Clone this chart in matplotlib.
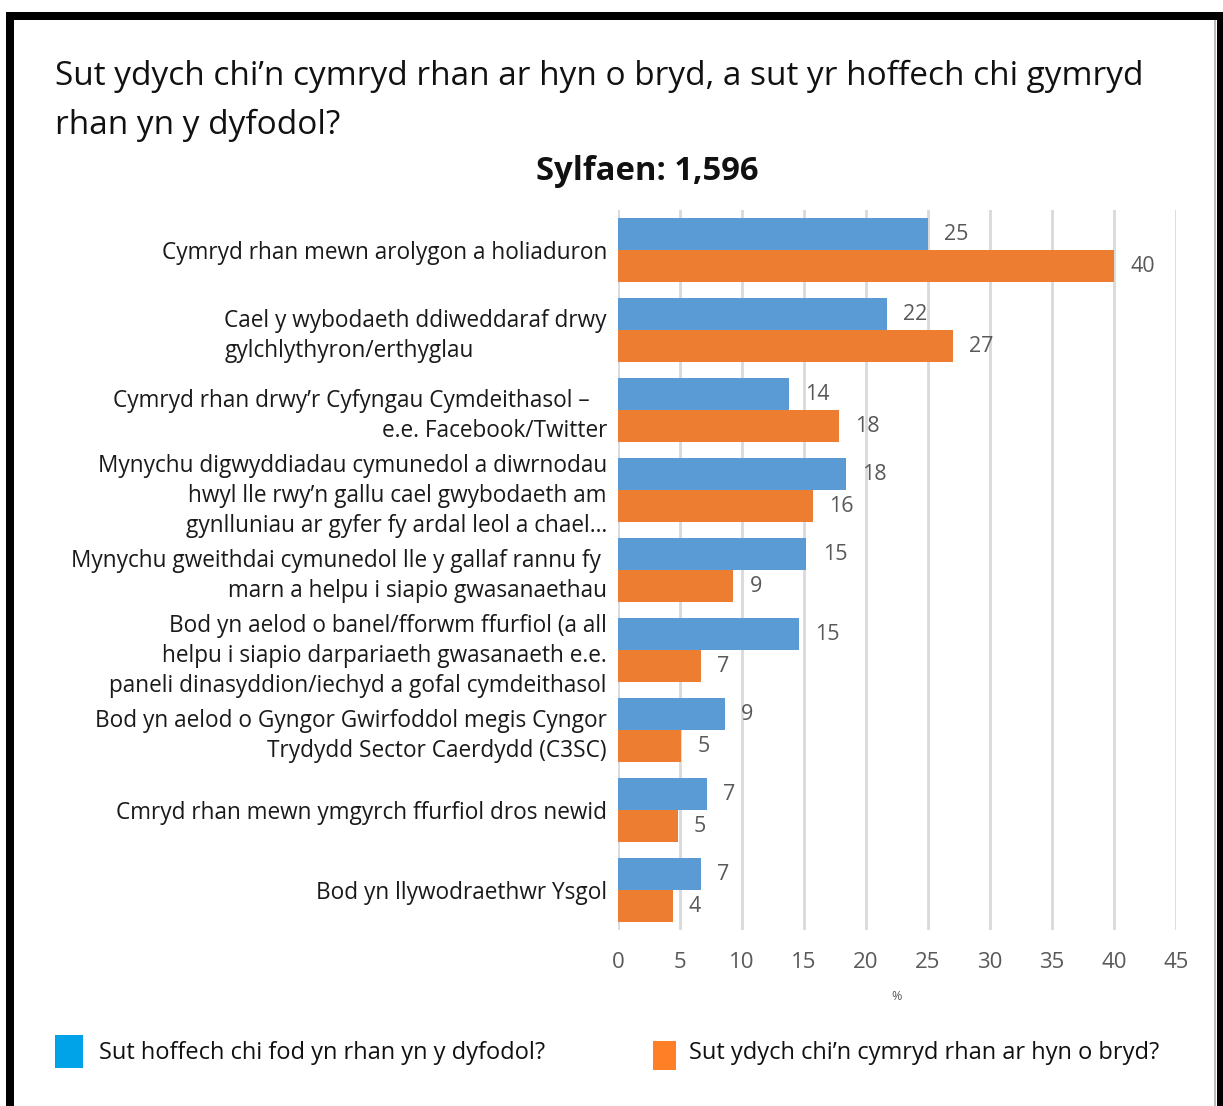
import matplotlib
matplotlib.use("Agg")
import matplotlib.pyplot as plt
from matplotlib.patches import Rectangle
import numpy as np

categories = [
    "Cymryd rhan mewn arolygon a holiaduron",
    "Cael y wybodaeth ddiweddaraf drwy\ngylchlythyron/erthyglau",
    "Cymryd rhan drwy\u2019r Cyfyngau Cymdeithasol \u2013   \ne.e. Facebook/Twitter",
    "Mynychu digwyddiadau cymunedol a diwrnodau\nhwyl lle rwy\u2019n gallu cael gwybodaeth am\ngynlluniau ar gyfer fy ardal leol a chael\u2026",
    "Mynychu gweithdai cymunedol lle y gallaf rannu fy \nmarn a helpu i siapio gwasanaethau",
    "Bod yn aelod o banel/fforwm ffurfiol (a all\nhelpu i siapio darpariaeth gwasanaeth e.e.\npaneli dinasyddion/iechyd a gofal cymdeithasol",
    "Bod yn aelod o Gyngor Gwirfoddol megis Cyngor\nTrydydd Sector Caerdydd (C3SC)",
    "Cmryd rhan mewn ymgyrch ffurfiol dros newid",
    "Bod yn llywodraethwr Ysgol",
]
future = [25.0, 21.7, 13.8, 18.4, 15.2, 14.6, 8.6, 7.2, 6.7]
current = [40.0, 27.0, 17.8, 15.7, 9.3, 6.7, 5.1, 4.8, 4.4]
series_names = ["Sut hoffech chi fod yn rhan yn y dyfodol?",
                "Sut ydych chi\u2019n cymryd rhan ar hyn o bryd?"]
xticks = [0, 5, 10, 15, 20, 25, 30, 35, 40, 45]

FONT = "Open Sans"
plt.rcParams['font.family'] = [FONT, 'DejaVu Sans']

W, H = 1223, 1106
fig = plt.figure(figsize=(W / 100, H / 100), dpi=100)
fig.patch.set_facecolor("white")

def fx(px):
    return px / W

def fy(py):
    return 1 - py / H

ax = fig.add_axes([fx(618), fy(930), fx(1176) - fx(618), fy(210) - fy(930)])

n = len(categories)
y = np.arange(n)
bh = 0.4
ax.barh(y - bh / 2, future, height=bh, color="#5B9BD5", zorder=3)
ax.barh(y + bh / 2, current, height=bh, color="#ED7D31", zorder=3)

for yi, v in zip(y - bh / 2, future):
    ax.text(v + 1.3, yi, f"{v:.0f}", va="center", ha="left", fontsize=15.5, color="#595959")
for yi, v in zip(y + bh / 2, current):
    ax.text(v + 1.3, yi, f"{v:.0f}", va="center", ha="left", fontsize=15.5, color="#595959")

ax.set_ylim(n - 0.5, -0.5)
ax.set_xlim(0, 45)
ax.set_xticks(xticks)
ax.set_xticklabels([str(t) for t in xticks], fontsize=16, color="#595959")
ax.set_yticks(y)
ax.set_yticklabels(categories, fontsize=16.3, color="#1a1a1a", linespacing=1.35)
for i, lab in enumerate(ax.get_yticklabels()):
    lab.set_multialignment("left" if i == 1 else "right")
ax.tick_params(axis="both", length=0)
ax.tick_params(axis="y", pad=8)
ax.tick_params(axis="x", pad=16)
ax.grid(axis="x", color="#D9D9D9", linewidth=2, zorder=0)
for s in ax.spines.values():
    s.set_visible(False)
ax.set_xlabel("%", fontsize=9, color="#595959", labelpad=12)

# titles
fig.text(fx(55), fy(101), "Sut ydych chi\u2019n cymryd rhan ar hyn o bryd, a sut yr hoffech chi gymryd\nrhan yn y dyfodol?",
         fontsize=24, ha="left", va="center", color="#111111", linespacing=1.6)
fig.text(fx(647), fy(172), "Sylfaen: 1,596", fontsize=23.7, fontweight="bold", ha="center", va="center", color="#111111")

# legend
fig.patches.append(Rectangle((fx(55), fy(1068)), fx(28), fy(1035) - fy(1068), transform=fig.transFigure,
                             facecolor="#00A2E8", edgecolor="none"))
fig.text(fx(99), fy(1053), series_names[0], fontsize=17, ha="left", va="center", color="#111111")
fig.patches.append(Rectangle((fx(653), fy(1070)), fx(23), fy(1041) - fy(1070), transform=fig.transFigure,
                             facecolor="#FF7F27", edgecolor="none"))
fig.text(fx(689), fy(1053), series_names[1], fontsize=17, ha="left", va="center", color="#111111")

# frame
fig.patches.append(Rectangle((fx(6), 0), fx(8), fy(12), transform=fig.transFigure, facecolor="black", edgecolor="none"))
fig.patches.append(Rectangle((fx(6), fy(20)), fx(1223) - fx(6), fy(12) - fy(20), transform=fig.transFigure,
                             facecolor="black", edgecolor="none"))
fig.patches.append(Rectangle((fx(1217), 0), fx(6), fy(12), transform=fig.transFigure, facecolor="black", edgecolor="none"))
fig.patches.append(Rectangle((fx(1214), 0), fx(2), fy(20), transform=fig.transFigure, facecolor="#BBBBBB", edgecolor="none"))

fig.savefig("out.png", dpi=100, facecolor="white")
